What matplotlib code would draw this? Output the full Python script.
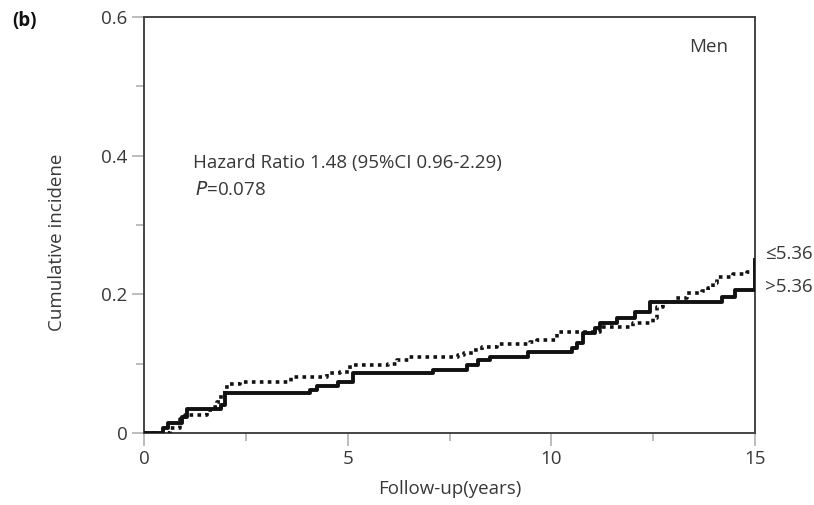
import matplotlib
matplotlib.use("Agg")
import matplotlib.pyplot as plt

plt.rcParams['font.family'] = ['Open Sans', 'DejaVu Sans']

# Solid line: >5.36
low_t = [0, 0.47, 0.59, 0.93, 1.05, 1.9, 2.0, 4.08, 4.25, 4.76, 5.13, 7.1, 7.93, 8.2, 8.5,
         9.43, 10.5, 10.63, 10.78, 11.07, 11.2, 11.6, 12.05, 12.42, 14.2, 14.5, 15.0]
low_y = [0, 0.007, 0.014, 0.023, 0.035, 0.04, 0.057, 0.062, 0.068, 0.074, 0.087, 0.091, 0.098, 0.105, 0.11,
         0.117, 0.123, 0.13, 0.144, 0.151, 0.159, 0.166, 0.175, 0.189, 0.196, 0.206, 0.25]

# Dotted line: <=5.36
high_t = [0, 0.64, 0.88, 1.0, 1.55, 1.67, 1.8, 1.9, 2.0, 2.1, 2.36, 3.6, 4.5, 4.8, 5.06, 6.0, 6.2, 6.5,
          7.7, 7.85, 8.1, 8.3, 8.67, 9.48, 9.65, 10.15, 11.2, 12.0, 12.5, 12.6, 12.75, 13.0, 13.33,
          13.7, 13.85, 13.97, 14.07, 14.46, 14.8, 15.0]
high_y = [0, 0.007, 0.02, 0.026, 0.033, 0.038, 0.045, 0.057, 0.067, 0.07, 0.074, 0.081, 0.086, 0.088, 0.098,
          0.1, 0.105, 0.11, 0.112, 0.115, 0.12, 0.124, 0.128, 0.131, 0.134, 0.146, 0.153, 0.158, 0.166,
          0.182, 0.189, 0.195, 0.202, 0.205, 0.209, 0.216, 0.225, 0.23, 0.232, 0.252]

x_major = [0, 5, 10, 15]
x_minor = [2.5, 7.5, 12.5]
y_major = [0, 0.2, 0.4, 0.6]
y_minor = [0.1, 0.3, 0.5]
x_labels = ['0', '5', '10', '15']
y_labels = ['0', '0.2', '0.4', '0.6']

FS = 13.5
TC = '#383838'

fig = plt.figure(figsize=(8.14, 5.05), dpi=100)
ax = fig.add_axes([144/814, 72/505, (755-144)/814, (433-17)/505])

ax.step(high_t, high_y, where='post', color='#111111', lw=2.6, linestyle=(0, (1, 1.2)),
        dash_capstyle='butt', zorder=3)
ax.step(low_t, low_y, where='post', color='#111111', lw=2.8, zorder=4)

ax.set_xlim(0, 15)
ax.set_ylim(0, 0.6)
ax.set_xticks(x_major)
ax.set_xticklabels(x_labels)
ax.set_xticks(x_minor, minor=True)
ax.set_yticks(y_major)
ax.set_yticklabels(y_labels)
ax.set_yticks(y_minor, minor=True)
ax.tick_params(which='major', length=9, width=1.2, color='#b0b0b0', labelsize=FS,
               labelcolor=TC, pad=3)
ax.tick_params(which='minor', length=6, width=1.2, color='#b0b0b0')
for s in ax.spines.values():
    s.set_color('#444444')
    s.set_linewidth(1.4)

fig.text(709/814, 1 - 47/505, 'Men', fontsize=FS, color=TC, ha='center', va='center')
fig.text(193/814, 1 - 163/505, 'Hazard Ratio 1.48 (95%CI 0.96-2.29)', fontsize=FS,
         color=TC, ha='left', va='center')
fig.text(195/814, 1 - 190/505, r'$\mathit{P}$=0.078', fontsize=FS, color=TC,
         ha='left', va='center')
fig.text(765/814, 1 - 254/505, '≤5.36', fontsize=FS, color=TC, ha='left', va='center')
fig.text(765/814, 1 - 287/505, '>5.36', fontsize=FS, color=TC, ha='left', va='center')

fig.text(450/814, 1 - 489/505, 'Follow-up(years)', fontsize=FS, color=TC,
         ha='center', va='center')
fig.text(57/814, 1 - 242/505, 'Cumulative incidene', fontsize=FS, color=TC,
         ha='center', va='center', rotation=90)
fig.text(12/814, 1 - 21/505, '(b)', fontsize=FS, fontweight='bold', color='#111111',
         ha='left', va='center')

fig.savefig('out.png', dpi=100)
